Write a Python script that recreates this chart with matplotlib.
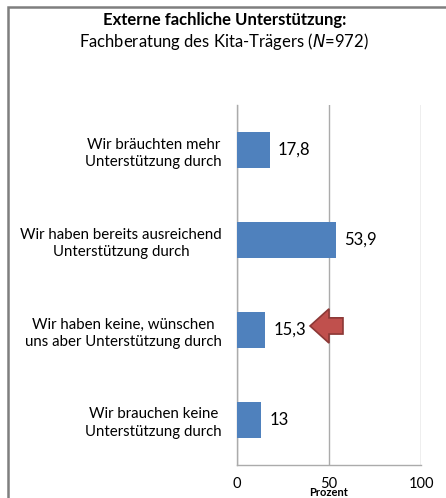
import matplotlib
matplotlib.use("Agg")
import matplotlib.pyplot as plt
from matplotlib.patches import Rectangle, FancyArrow

categories = [
    "Wir bräuchten mehr\nUnterstützung durch",
    "Wir haben bereits ausreichend\nUnterstützung durch",
    "Wir haben keine, wünschen\nuns aber Unterstützung durch",
    "Wir brauchen keine\nUnterstützung durch",
]
values = [17.8, 53.9, 15.3, 13.0]
value_labels = ["17,8", "53,9", "15,3", "13"]
xticks = [0, 50, 100]
xtick_labels = ["0", "50", "100"]

plt.rcParams['font.family'] = ['Lato', 'DejaVu Sans']

fig = plt.figure(figsize=(4.46, 4.98), dpi=100)
ax = fig.add_axes([237/446, 1-465/498, 184/446, 360/498])

ypos = list(range(len(categories)))[::-1]
ax.barh(ypos, values, height=0.4, color="#4F81BD", zorder=3)
for y, v, lab in zip(ypos, values, value_labels):
    ax.text(v + 4.5, y, lab, va="center", ha="left", fontsize=12, color="black")

ax.set_xlim(0, 100)
ax.set_ylim(-0.5, 3.5)
ax.set_yticks(ypos)
ax.set_yticklabels(categories, fontsize=10.8, multialignment="center", linespacing=1.35)
ax.set_xticks(xticks)
ax.set_xticklabels(xtick_labels, fontsize=10.5)
ax.tick_params(axis="both", length=0)
ax.tick_params(axis="y", pad=11)
ax.tick_params(axis="x", pad=9)
ax.grid(axis="x", color="#ababab", linewidth=1, zorder=0)
for s in ["top", "right"]:
    ax.spines[s].set_visible(False)
for s in ["left", "bottom"]:
    ax.spines[s].set_color("#ababab")
    ax.spines[s].set_linewidth(1)
ax.set_xlabel("Prozent", fontsize=8, fontweight="bold", va="center")
ax.xaxis.set_label_coords(0.5, -28/360)

# arrow pointing to the third bar
arrow = FancyArrow(57.6, 1.045, -17.9, 0, width=0.18, head_width=0.38,
                   head_length=10.3, length_includes_head=True,
                   facecolor="#C0504D", edgecolor="#8C3836", linewidth=1.2, zorder=4)
ax.add_patch(arrow)

fig.text(0.503, 1-20/498, "Externe fachliche Unterstützung:", ha="center", va="center",
         fontsize=12, fontweight="bold")
fig.text(0.503, 1-41/498, "Fachberatung des Kita-Trägers ($\\mathit{N}$=972)", ha="center", va="center",
         fontsize=12)

border = Rectangle((7.5/446, -0.1), 1.0, 1-7.5/498 + 0.1, transform=fig.transFigure,
                   fill=False, edgecolor="#7f7f7f", linewidth=1.8)
fig.patches.append(border)

fig.savefig("out.png", dpi=100)
